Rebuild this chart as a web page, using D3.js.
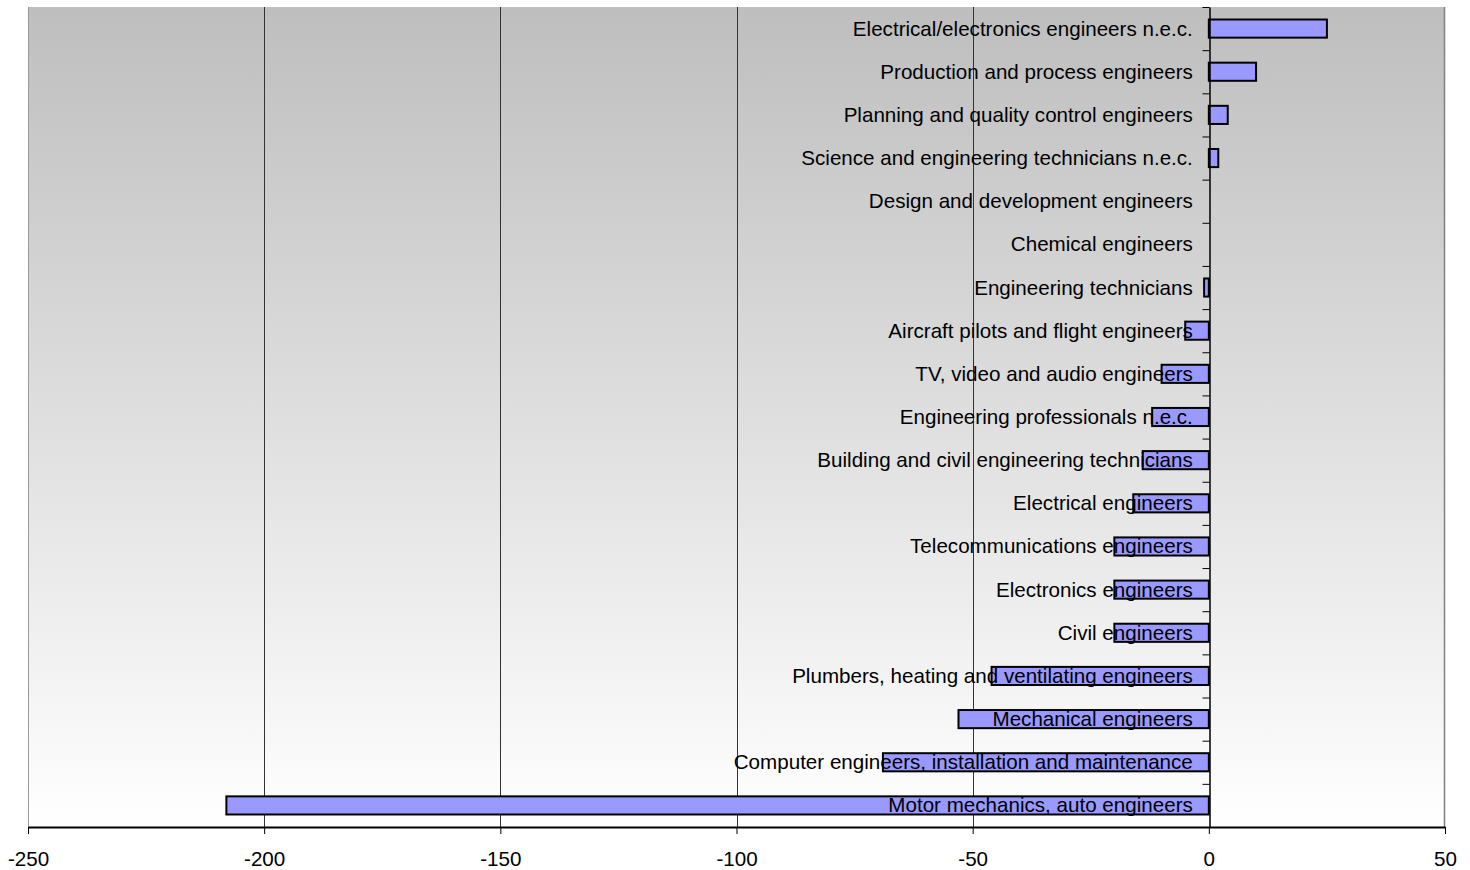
<!DOCTYPE html>
<html>
<head>
<meta charset="utf-8">
<script src="https://cdn.jsdelivr.net/npm/d3@7"></script>
<style>
  html, body { margin: 0; padding: 0; background: #ffffff; }
  svg { display: block; font-family: "Liberation Sans", Arial, sans-serif; }
</style>
</head>
<body>
<svg id="chart" width="1470" height="870"></svg>
<script>
// Occupations, top to bottom
const categories = [
  "Electrical/electronics engineers n.e.c.",
  "Production and process engineers",
  "Planning and quality control engineers",
  "Science and engineering technicians n.e.c.",
  "Design and development engineers",
  "Chemical engineers",
  "Engineering technicians",
  "Aircraft pilots and flight engineers",
  "TV, video and audio engineers",
  "Engineering professionals n.e.c.",
  "Building and civil engineering technicians",
  "Electrical engineers",
  "Telecommunications engineers",
  "Electronics engineers",
  "Civil engineers",
  "Plumbers, heating and ventilating engineers",
  "Mechanical engineers",
  "Computer engineers, installation and maintenance",
  "Motor mechanics, auto engineers"
];

// Change for each occupation
const values = [25, 10, 4, 2, 0, 0, -1, -5, -10, -12, -14, -16, -20, -20, -20, -46, -53, -69, -208];

// Horizontal axis ticks and gridlines
const xTicks = [-250, -200, -150, -100, -50, 0, 50];
const gridValues = [-200, -150, -100, -50];

const svg = d3.select("#chart");
const plotLeft = 28, plotRight = 1445, plotTop = 7, plotBottom = 827;

const x = d3.scaleLinear().domain([-250, 50]).range([plotLeft, plotRight]);
const y = d3.scaleBand().domain(categories).range([plotTop, plotBottom]).paddingInner(0.58).paddingOuter(0.29);
const yIdx = d3.scaleLinear().domain([0, categories.length]).range([plotTop, plotBottom]);

// Plot-area background gradient
const defs = svg.append("defs");
const grad = defs.append("linearGradient").attr("id", "bg").attr("x1", 0).attr("y1", 0).attr("x2", 0).attr("y2", 1);
grad.append("stop").attr("offset", "0%").attr("stop-color", "#bebebe");
grad.append("stop").attr("offset", "100%").attr("stop-color", "#ffffff");

svg.append("rect")
  .attr("x", plotLeft).attr("y", plotTop)
  .attr("width", plotRight - plotLeft).attr("height", plotBottom - plotTop)
  .attr("fill", "url(#bg)");

// Plot-area side borders
svg.append("line").attr("x1", plotLeft + 0.5).attr("x2", plotLeft + 0.5).attr("y1", plotTop).attr("y2", plotBottom)
  .attr("stroke", "#9a9a9a").attr("stroke-width", 1);
svg.append("line").attr("x1", plotRight - 0.5).attr("x2", plotRight - 0.5).attr("y1", plotTop).attr("y2", plotBottom)
  .attr("stroke", "#808080").attr("stroke-width", 1.5);

// Vertical gridlines
svg.append("g").selectAll("line").data(gridValues).join("line")
  .attr("x1", d => Math.round(x(d)) + 0.5).attr("x2", d => Math.round(x(d)) + 0.5)
  .attr("y1", plotTop).attr("y2", plotBottom)
  .attr("stroke", "#333333").attr("stroke-width", 1);

// Bars
svg.append("g").selectAll("rect").data(categories).join("rect")
  .attr("x", (d, i) => x(Math.min(0, values[i])))
  .attr("y", d => y(d))
  .attr("width", (d, i) => Math.abs(x(values[i]) - x(0)))
  .attr("height", y.bandwidth())
  .attr("fill", "#9999ff")
  .attr("stroke", (d, i) => values[i] === 0 ? "none" : "#000000")
  .attr("stroke-width", 2);

// Category labels
svg.append("g").selectAll("text").data(categories).join("text")
  .attr("x", x(0) - 16)
  .attr("y", d => y(d) + y.bandwidth() / 2)
  .attr("dy", "0.34em")
  .attr("text-anchor", "end")
  .attr("font-size", 20.6)
  .attr("fill", "#000000")
  .text(d => d);

// Vertical axis at zero with ticks on category boundaries
const yAxis = svg.append("g")
  .attr("transform", `translate(${Math.round(x(0)) + 0.5},0)`)
  .call(d3.axisLeft(yIdx).tickValues(d3.range(categories.length + 1)).tickSize(7).tickSizeOuter(0).tickFormat(""));
yAxis.select(".domain").attr("stroke", "#000000").attr("stroke-width", 1.5);
yAxis.selectAll(".tick line").attr("stroke", "#000000").attr("stroke-width", 1);

// Horizontal axis
const xAxis = svg.append("g")
  .attr("transform", `translate(0,${plotBottom})`)
  .call(d3.axisBottom(x).tickValues(xTicks).tickSize(7).tickSizeOuter(0).tickPadding(17).tickFormat(d => String(d)));
xAxis.select(".domain").attr("stroke", "#000000").attr("stroke-width", 2);
xAxis.selectAll(".tick line").attr("stroke", "#000000").attr("stroke-width", 1);
xAxis.selectAll(".tick text").attr("font-size", 20.6).attr("fill", "#000000")
  .attr("font-family", "'Liberation Sans', Arial, sans-serif");
</script>
</body>
</html>
